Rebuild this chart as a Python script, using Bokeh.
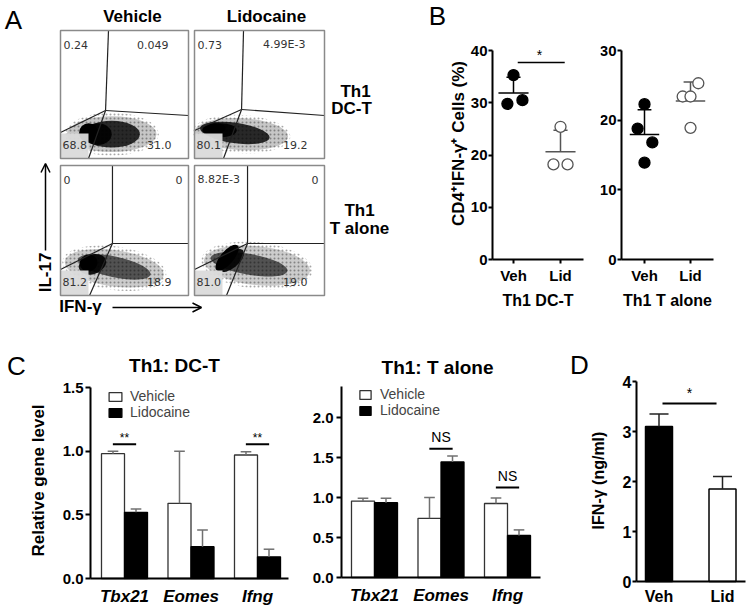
import numpy as np
from bokeh.plotting import figure
from bokeh.layouts import row, column
from bokeh.models import (Range1d, FixedTicker, Arrow, OpenHead, Legend,
                          LegendItem, PrintfTickFormatter)
from bokeh.embed import file_html
from bokeh.resources import INLINE
from bokeh.core.properties import value

FONT = "Liberation Sans"
FLOW_FONT = "DejaVu Sans"

# ------------------------------------------------------------------ data
# Panel A: flow cytometry (IL-17 vs IFN-g), quadrant % [UL, UR, LL, LR]
flow_cols = ["Vehicle", "Lidocaine"]
flow_rows = [["Th1", "DC-T"], ["Th1", "T alone"]]
pct_dct_veh = ["0.24", "0.049", "68.8", "31.0"]
pct_dct_lid = ["0.73", "4.99E-3", "80.1", "19.2"]
pct_alone_veh = ["0", "0", "81.2", "18.9"]
pct_alone_lid = ["8.82E-3", "0", "81.0", "19.0"]
# gates (normalised axis units): top-x, junction-x, junction-y, right-y, left-y, bottom-x
gate_dct_veh = [0.375, 0.352, 0.375, 0.336, 0.203, 0.219]
gate_dct_lid = [0.377, 0.362, 0.383, 0.336, 0.219, 0.223]
gate_alone_veh = [0.406, 0.406, 0.400, 0.400, 0.200, 0.227]
gate_alone_lid = [0.408, 0.408, 0.400, 0.400, 0.200, 0.246]
# event density regions (cx, cy, w, h, angle deg, alpha) in normalised units
cloud_dct_veh = [(0.40, 0.19, 0.70, 0.28, 0, 0.22), (0.40, 0.19, 0.44, 0.21, 0, 0.8),
                 (0.29, 0.19, 0.22, 0.17, 0, 0.9), (0.22, 0.20, 0.15, 0.15, 0, 1.0)]
cloud_dct_lid = [(0.36, 0.19, 0.72, 0.25, -3, 0.22), (0.31, 0.20, 0.54, 0.16, -8, 0.8),
                 (0.20, 0.22, 0.25, 0.11, 0, 0.9), (0.15, 0.23, 0.18, 0.09, 5, 1.0)]
cloud_alone_veh = [(0.42, 0.21, 0.78, 0.28, -8, 0.2), (0.42, 0.22, 0.58, 0.16, -12, 0.6),
                   (0.25, 0.24, 0.22, 0.15, 20, 0.9), (0.22, 0.25, 0.14, 0.13, 30, 1.0)]
cloud_alone_lid = [(0.48, 0.23, 0.82, 0.30, -6, 0.2), (0.42, 0.24, 0.60, 0.16, -10, 0.6),
                   (0.28, 0.27, 0.24, 0.12, 40, 0.9), (0.25, 0.29, 0.25, 0.10, 50, 1.0)]

# Panel B: % CD4+IFN-g+ cells, individual points
b_groups = ["Veh", "Lid"]
b_dct_veh = [35.3, 29.8, 30.5]
b_dct_lid = [25.4, 18.2, 18.2]
b_alone_veh = [22.3, 18.8, 16.8, 13.9]
b_alone_lid = [25.3, 23.4, 23.4, 18.9]
jit_dct_veh = [0.0, -0.13, 0.19]
jit_dct_lid = [0.0, -0.15, 0.15]
jit_alone_veh = [0.0, -0.15, 0.17, 0.0]
jit_alone_lid = [0.17, -0.17, 0.0, 0.0]

# Panel C: relative gene level (mean, error)
genes = ["Tbx21", "Eomes", "Ifng"]
c_dct_veh = [0.98, 0.59, 0.97]
c_dct_veh_err = [0.02, 0.41, 0.025]
c_dct_lid = [0.52, 0.25, 0.17]
c_dct_lid_err = [0.025, 0.13, 0.06]
c_alone_veh = [0.955, 0.74, 0.925]
c_alone_veh_err = [0.035, 0.26, 0.07]
c_alone_lid = [0.935, 1.445, 0.525]
c_alone_lid_err = [0.055, 0.075, 0.07]
c_dct_sig = ["**", "", "**"]
c_alone_sig = ["", "NS", "NS"]

# Panel D: IFN-g ng/ml
d_groups = ["Veh", "Lid"]
d_mean = [3.1, 1.85]
d_err = [0.25, 0.25]

TF = value(FONT)


# ------------------------------------------------------------------ helpers
def panel_fig(x0, x1, y0, y1, xv_px, xv, xs, yv_px, yv, ys):
    """Figure covering page box x0..x1, y0..y1 whose frame is the whole canvas."""
    xr = (xv - (xv_px - x0) / xs, xv + (x1 - xv_px) / xs)
    yr = (yv - (y1 - yv_px) / ys, yv + (yv_px - y0) / ys)
    p = figure(width=x1 - x0, height=y1 - y0, x_range=Range1d(*xr), y_range=Range1d(*yr),
               toolbar_location=None, output_backend="svg", title=None, min_border=0)
    p.xgrid.visible = False
    p.ygrid.visible = False
    p.outline_line_color = None
    for ax in p.axis:
        ax.axis_line_width = 2
        ax.axis_line_color = "black"
        ax.major_tick_line_width = 2
        ax.major_tick_line_color = "black"
        ax.major_tick_in = 0
        ax.major_tick_out = 4
        ax.minor_tick_line_color = None
        ax.major_label_text_font = FONT
        ax.major_label_text_font_style = "bold"
        ax.major_label_text_font_size = "15px"
        ax.major_label_text_color = "black"
        ax.axis_label_text_font = FONT
        ax.axis_label_text_font_style = "bold"
        ax.axis_label_text_color = "black"
        ax.major_label_standoff = 2
    P = lambda px: xv + (px - xv_px) / xs
    Q = lambda py: yv + (yv_px - py) / ys
    return p, P, Q


def set_axes(p, xloc, xb, yloc, yb):
    p.xaxis.fixed_location = xloc
    p.xaxis.bounds = xb
    p.yaxis.fixed_location = yloc
    p.yaxis.bounds = yb


def txt(p, x, y, s, size, style="normal", align="center", angle=0.0):
    p.text(x=[x], y=[y], text=[s], text_font=TF, text_font_size=size, text_font_style=style,
           text_align=align, text_baseline="middle", text_color="black", angle=angle)


# ------------------------------------------------------------------ Panel A
pa = figure(width=425, height=318, x_range=Range1d(0, 425), y_range=Range1d(318, 0),
            x_axis_location=None, y_axis_location=None, toolbar_location=None,
            output_backend="svg", title=None, min_border=0)
pa.grid.visible = False
pa.outline_line_color = None

boxes = [(60, 188, 30, 158), (194, 324, 30, 158), (60, 188, 165, 295), (194, 324, 165, 295)]
pcts = [pct_dct_veh, pct_dct_lid, pct_alone_veh, pct_alone_lid]
gates = [gate_dct_veh, gate_dct_lid, gate_alone_veh, gate_alone_lid]
clouds = [cloud_dct_veh, cloud_dct_lid, cloud_alone_veh, cloud_alone_lid]
ur_off = [20, 19, 6, 6]

for (x0, x1, yt, yb), pc, g, cl, uo in zip(boxes, pcts, gates, clouds, ur_off):
    W, H = x1 - x0, yb - yt
    X = lambda u: x0 + u * W
    Y = lambda v: yb - v * H
    # sparse halo of events (dotted texture)
    pa.ellipse(x=[X(cl[0][0])], y=[Y(cl[0][1])], width=[cl[0][2] * W * 1.05],
               height=[cl[0][3] * H * 1.2], angle=[np.deg2rad(cl[0][4])], angle_units="rad",
               fill_color=None, line_color=None, hatch_pattern=".", hatch_color="black",
               hatch_scale=4, hatch_alpha=0.35, hatch_weight=1)
    pa.ellipse(x=[X(c[0]) for c in cl], y=[Y(c[1]) for c in cl],
               width=[c[2] * W for c in cl], height=[c[3] * H for c in cl],
               angle=[np.deg2rad(c[4]) for c in cl], angle_units="rad",
               fill_color="black", fill_alpha=[c[5] for c in cl], line_color=None)
    # label background
    pa.quad(left=[x0], right=[x0 + 28], top=[yb - 25], bottom=[yb],
            fill_color="#dadada", fill_alpha=0.95, line_color=None)
    tx, jx, jy, ry, ly, bx = g
    pa.multi_line(xs=[[X(tx), X(jx)], [X(jx), X(1)], [X(jx), X(0)], [X(jx), X(bx)]],
                  ys=[[Y(1), Y(jy)], [Y(jy), Y(ry)], [Y(jy), Y(ly)], [Y(jy), Y(0)]],
                  line_color="#222222", line_width=1.2)
    pa.quad(left=[x0], right=[x1], top=[yt], bottom=[yb], fill_color=None,
            line_color="#8a8a8a", line_width=1.5)
    ff = value(FLOW_FONT)
    pa.text(x=[x0 + 3, x0 + 2], y=[yt + 14, yb - 14], text=[pc[0], pc[2]], text_font=ff,
            text_font_size="11px", text_color="#333333", text_align="left",
            text_baseline="middle")
    pa.text(x=[x1 - uo, x1 - 17], y=[yt + 14, yb - 14], text=[pc[1], pc[3]], text_font=ff,
            text_font_size="11px", text_color="#333333", text_align="right",
            text_baseline="middle")

pa.text(x=[13], y=[19], text=["A"], text_font=TF, text_font_size="26px",
        text_align="center", text_baseline="middle")
pa.text(x=[132, 266], y=[16, 16], text=flow_cols, text_font=TF, text_font_size="17px",
        text_font_style="bold", text_align="center", text_baseline="middle")
pa.text(x=[355, 351], y=[91, 108], text=flow_rows[0], text_font=TF, text_font_size="17px",
        text_font_style="bold", text_align="center", text_baseline="middle")
pa.text(x=[359, 359], y=[210, 228], text=flow_rows[1], text_font=TF, text_font_size="17px",
        text_font_style="bold", text_align="center", text_baseline="middle")
pa.text(x=[45], y=[272], text=["IL-17"], angle=np.pi / 2, text_font=TF, text_font_size="17px",
        text_font_style="bold", text_align="center", text_baseline="middle")
pa.text(x=[80], y=[306], text=["IFN-γ"], text_font=TF, text_font_size="17px",
        text_font_style="bold", text_align="center", text_baseline="middle")
pa.add_layout(Arrow(end=OpenHead(size=9, line_width=1.5), x_start=45, y_start=250,
                    x_end=45, y_end=163, line_width=1.5))
pa.add_layout(Arrow(end=OpenHead(size=9, line_width=1.5), x_start=112, y_start=307,
                    x_end=201, y_end=307, line_width=1.5))


# ------------------------------------------------------------------ Panel B
def dot_panel(x0, x1, xc_px, xs, ax_px, ax_right_px, ys, ymax, yticks, veh, lid, jv, jl,
              xlabel):
    p, P, Q = panel_fig(x0, x1, 0, 318, xc_px, 1, xs, 259, 0, ys)
    set_axes(p, 0, (P(ax_px), P(ax_right_px)), P(ax_px), (0, ymax))
    p.xaxis.ticker = FixedTicker(ticks=[1, 2])
    p.xaxis.major_label_overrides = {1: b_groups[0], 2: b_groups[1]}
    p.xaxis.major_label_standoff = 3
    p.xaxis.axis_label = xlabel
    p.xaxis.axis_label_text_font_size = "16px"
    p.xaxis.axis_label_standoff = 5
    p.yaxis.ticker = FixedTicker(ticks=yticks)
    p.yaxis.major_label_standoff = 1
    for k, (vals, jit, filled) in enumerate([(veh, jv, True), (lid, jl, False)]):
        xc = k + 1
        col = "black" if filled else "#555555"
        m, sd = float(np.mean(vals)), float(np.std(vals, ddof=1))
        p.segment(x0=[xc - 0.32, xc, xc - 0.15], y0=[m, m, m + sd],
                  x1=[xc + 0.32, xc, xc + 0.15], y1=[m, m + sd, m + sd],
                  line_color=col, line_width=1.5)
        p.scatter(x=[xc + j for j in jit], y=vals, size=11,
                  fill_color="black" if filled else "white",
                  line_color=col, line_width=1.3)
    return p, P, Q


pb1, PB1, QB1 = dot_panel(425, 600, 513, 47.0, 492, 583, 209 / 40, 40, [0, 10, 20, 30, 40],
                          b_dct_veh, b_dct_lid, jit_dct_veh, jit_dct_lid, "Th1 DC-T")
pb2, PB2, QB2 = dot_panel(600, 746, 644, 46.0, 621, 713, 209 / 30, 30, [0, 10, 20, 30],
                          b_alone_veh, b_alone_lid, jit_alone_veh, jit_alone_lid,
                          "Th1 T alone")
txt(pb1, PB1(437), QB1(15), "B", "26px")
txt(pb1, PB1(458), QB1(143), "CD4⁺IFN-γ⁺ Cells (%)", "17px", "bold", angle=np.pi / 2)
pb1.segment(x0=[1.09], y0=[37.7], x1=[2.09], y1=[37.7], line_color="black", line_width=1.5)
txt(pb1, PB1(539), QB1(54), "*", "14px")


# ------------------------------------------------------------------ Panel C
def bar_panel(x0, x1, g1_px, ax_px, ax_right_px, zero_px, ys, ymax, yticks, veh, veh_e,
              lid, lid_e, sig, sig_y, sig_ty, sig_size, leg_xy, glyph_w, leg_standoff,
              title, title_px):
    p, P, Q = panel_fig(x0, x1, 318, 606, g1_px, 1, 66.5, zero_px, 0, ys)
    set_axes(p, 0, (P(ax_px), P(ax_right_px)), P(ax_px), (0, ymax))
    p.xaxis.ticker = FixedTicker(ticks=[1, 2, 3])
    p.xaxis.major_label_overrides = {i + 1: g for i, g in enumerate(genes)}
    p.xaxis.major_tick_out = 0
    p.xaxis.major_label_standoff = 8
    p.xaxis.major_label_text_font_style = "bold italic"
    p.xaxis.major_label_text_font_size = "17px"
    p.yaxis.ticker = FixedTicker(ticks=yticks)
    p.yaxis.formatter = PrintfTickFormatter(format="%.1f")
    p.yaxis.major_tick_out = 5
    p.yaxis.major_label_standoff = 2
    bw = 0.346
    xs = np.arange(1, 4)
    rv = p.vbar(x=xs - bw / 2, top=veh, width=bw, fill_color="white", line_color="#333333",
                line_width=1.3)
    rl = p.vbar(x=xs + bw / 2, top=lid, width=bw, fill_color="black", line_color="black",
                line_width=1.3)
    for off, vals, errs in [(-bw / 2, veh, veh_e), (bw / 2, lid, lid_e)]:
        xe = xs + off
        tops = np.array(vals) + np.array(errs)
        p.segment(x0=xe, y0=vals, x1=xe, y1=tops, line_color="#707070", line_width=1.5)
        p.segment(x0=xe - 0.08, y0=tops, x1=xe + 0.08, y1=tops, line_color="#707070",
                  line_width=1.5)
    for i, s in enumerate(sig):
        if s:
            p.segment(x0=[i + 1 - 0.175], y0=[sig_y[i]], x1=[i + 1 + 0.175], y1=[sig_y[i]],
                      line_color="black", line_width=2)
            txt(p, i + 1, sig_ty[i], s, sig_size)
    leg = Legend(items=[LegendItem(label="Vehicle", renderers=[rv]),
                        LegendItem(label="Lidocaine", renderers=[rl])],
                 location=leg_xy, padding=0, margin=0, spacing=0,
                 glyph_width=glyph_w, glyph_height=11, label_standoff=leg_standoff,
                 label_height=10, label_text_font=FONT, label_text_font_size="14px",
                 border_line_color=None, background_fill_alpha=0)
    p.add_layout(leg)
    txt(p, P(title_px[0]), Q(title_px[1]), title, "19px", "bold")
    return p, P, Q


pc1, PC1, QC1 = bar_panel(0, 300, 124, 90, 288, 578, 191 / 1.5, 1.5, [0, 0.5, 1.0, 1.5],
                          c_dct_veh, c_dct_veh_err, c_dct_lid, c_dct_lid_err, c_dct_sig,
                          [1.055, 0, 1.055], [1.105, 0, 1.105], "12px", (107, 186), 16, 7,
                          "Th1: DC-T", (174, 365))
txt(pc1, PC1(16), QC1(365), "C", "26px")
txt(pc1, PC1(38), QC1(480), "Relative gene level", "17px", "bold", angle=np.pi / 2)

pc2, PC2, QC2 = bar_panel(300, 565, 374, 341, 540, 577, 80.0, 2.3875,
                          [0, 0.5, 1.0, 1.5, 2.0],
                          c_alone_veh, c_alone_veh_err, c_alone_lid, c_alone_lid_err,
                          c_alone_sig, [0, 1.61, 1.125], [0, 1.76, 1.275], "14px", (58, 188),
                          14, 8, "Th1: T alone", (437, 367))
pc2.yaxis.major_label_standoff = 3

# ------------------------------------------------------------------ Panel D
pd, PD, QD = panel_fig(565, 746, 318, 606, 658.5, 1, 63.5, 581, 0, 50.0)
set_axes(pd, 0, (PD(636), PD(745)), PD(636), (0, 4))
pd.xaxis.ticker = FixedTicker(ticks=[1, 2])
pd.xaxis.major_label_overrides = {1: d_groups[0], 2: d_groups[1]}
pd.xaxis.major_tick_out = 0
pd.xaxis.major_label_standoff = 6
pd.xaxis.major_label_text_font_size = "16px"
pd.yaxis.ticker = FixedTicker(ticks=[0, 1, 2, 3, 4])
pd.yaxis.major_label_standoff = 1
pd.yaxis.major_label_text_font_size = "16px"
dx = np.array([1, 2])
pd.vbar(x=dx, top=d_mean, width=0.425, fill_color=["black", "white"], line_color="black",
        line_width=1.5)
dtop = np.array(d_mean) + np.array(d_err)
pd.segment(x0=dx, y0=d_mean, x1=dx, y1=dtop, line_color="#222222", line_width=1.5)
pd.segment(x0=dx - 0.15, y0=dtop, x1=dx + 0.15, y1=dtop, line_color="#222222", line_width=1.5)
pd.segment(x0=[1.055], y0=[3.56], x1=[1.906], y1=[3.56], line_color="black", line_width=2)
txt(pd, PD(689), QD(392), "*", "14px")
txt(pd, PD(579), QD(364), "D", "26px")
txt(pd, PD(598), QD(480), "IFN-γ (ng/ml)", "16px", "bold", angle=np.pi / 2)

layout = column(row(pa, pb1, pb2), row(pc1, pc2, pd))
open("out.html", "w").write(file_html(layout, INLINE))
